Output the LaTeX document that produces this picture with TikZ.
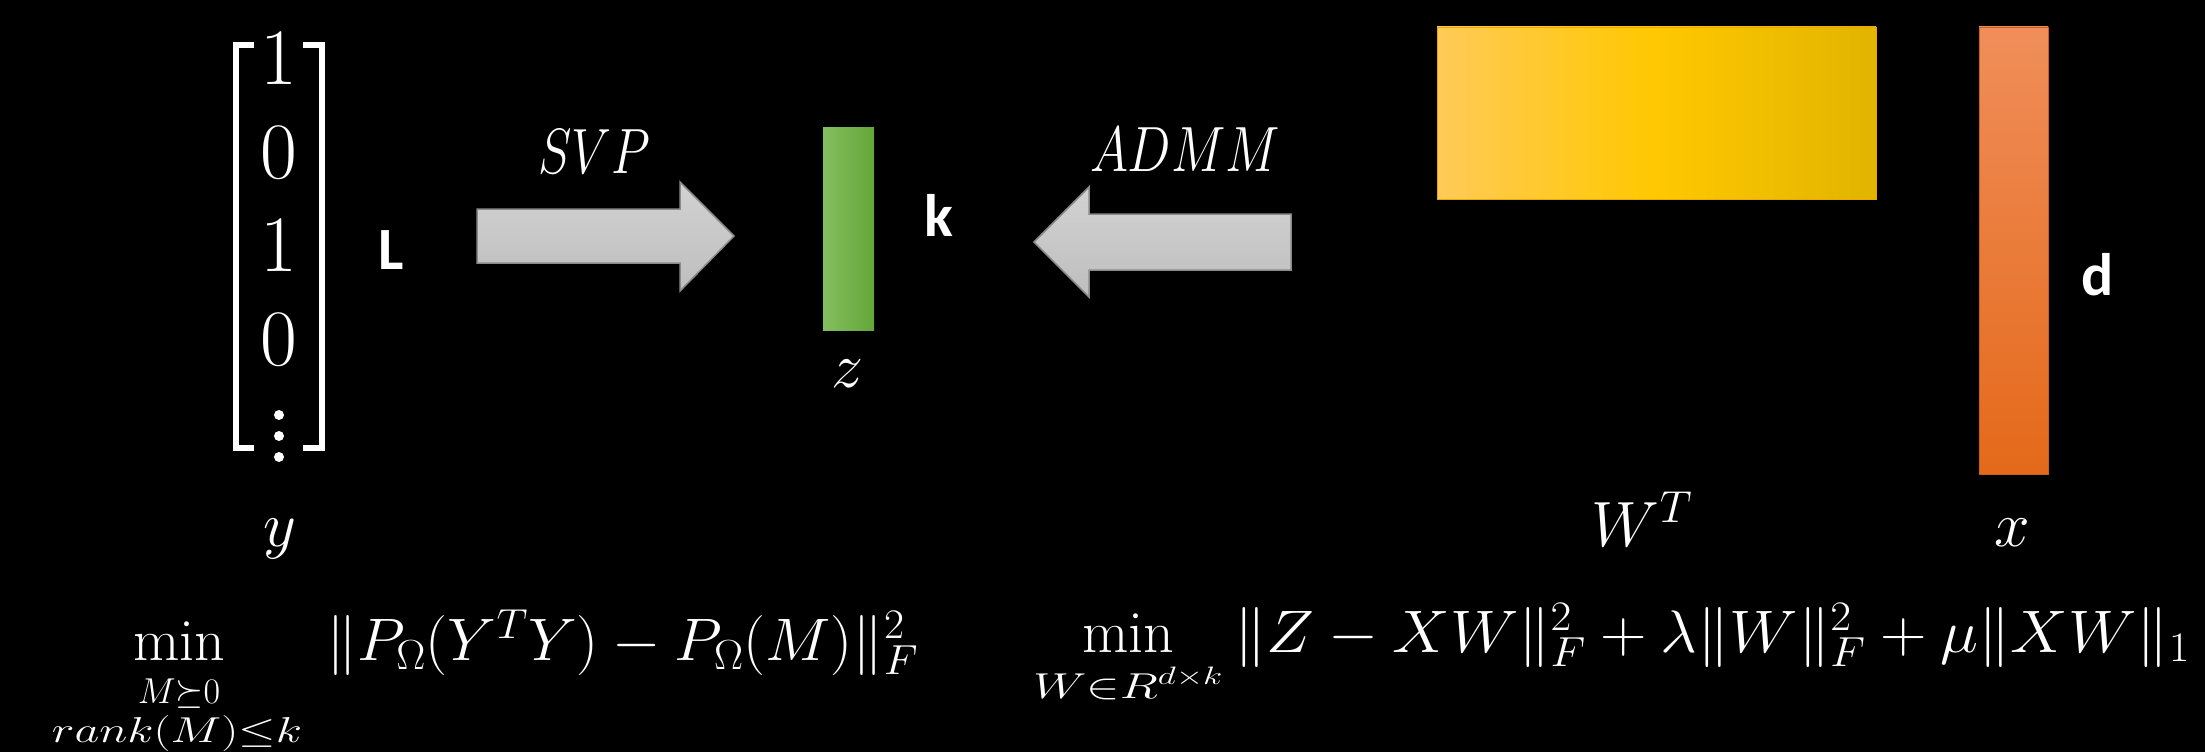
\documentclass[tikz,border=0pt]{standalone}
\usepackage{fix-cm}
\usepackage{amsmath}
\usepackage{graphicx}
\usepackage{fontspec}
\newfontfamily\calib{Carlito}
\newcommand\wfit[2]{\resizebox{#1}{\height}{#2}}
\definecolor{arrtop}{HTML}{D2D2D2}
\definecolor{arrbot}{HTML}{BEBEBE}
\definecolor{arredge}{HTML}{8A8A8A}
\definecolor{grL}{HTML}{84BF60}
\definecolor{grR}{HTML}{64A638}
\definecolor{yeL}{HTML}{FFCA58}
\definecolor{yeM}{HTML}{FFC800}
\definecolor{yeR}{HTML}{E2B400}
\definecolor{orT}{HTML}{F08E5A}
\definecolor{orB}{HTML}{E4691A}
\tikzset{
  lab/.style={text=white, inner sep=0pt, outer sep=0pt},
  dimlab/.style={lab, font=\calib\bfseries\fontsize{60}{72}\selectfont},
  mathlab/.style={lab, font=\fontsize{64}{76}\selectfont},
  digit/.style={lab, font=\fontsize{80}{96}\selectfont},
  fbig/.style={lab, font=\fontsize{60}{72}\selectfont},
  fsub/.style={lab, font=\fontsize{36}{43}\selectfont},
  brack/.style={draw=white, line width=6pt},
  vdot/.style={circle, fill=white, inner sep=0pt, minimum size=10pt},
  blockarrow/.style={top color=arrtop, bottom color=arrbot, draw=arredge, line width=1.5pt},
  barbox/.style={rectangle, inner sep=0pt, outer sep=0pt},
}
\begin{document}
\begin{tikzpicture}[x=1pt,y=-1pt]
\fill[black] (0,0) rectangle (2205,752);
\useasboundingbox (0,0) rectangle (2205,752);

% vector y
\draw[brack] (254,45) -- (236,45) -- (236,448) -- (254,448);
\draw[brack] (303,45) -- (322,45) -- (322,448) -- (303,448);
\node[digit] (r1) at (279,59) {$1$};
\node[digit] (r2) at (279,153) {$0$};
\node[digit] (r3) at (279,246) {$1$};
\node[digit] (r4) at (279,340) {$0$};
\node[vdot] (v1) at (279,415) {};
\node[vdot] (v2) at (279,436) {};
\node[vdot] (v3) at (279,457) {};
\node[dimlab] (Llab) at (391,250) {L};
\node[mathlab, anchor=base] (ylab) at (280,546) {$y$};

% SVP arrow
\coordinate (s0) at (477,209);
\path[blockarrow] (s0) -- (680,209) -- (680,182) -- (734,236) -- (680,291) -- (680,263) -- (477,263) -- cycle;
\node[mathlab, anchor=base] (svp) at (594,173) {\wfit{112pt}{$SVP$}};

% z
\node[barbox, left color=grL, right color=grR, minimum width=51pt, minimum height=203pt] (zbar) at (848.5,228.5) {};
\node[dimlab] (klab) at (939,215) {k};
\node[mathlab, anchor=base] (zlab) at (847,387) {$z$};

% ADMM arrow
\coordinate (a0) at (1291,214);
\path[blockarrow] (a0) -- (1089,214) -- (1089,187) -- (1034,242) -- (1089,297) -- (1089,270) -- (1291,270) -- cycle;
\node[mathlab, anchor=base] (admm) at (1185,171) {\wfit{190pt}{$ADMM$}};

% W^T
\node[barbox, left color=yeL, right color=yeR, middle color=yeM, draw=yeR!80!orange, line width=0.8pt, minimum width=439pt, minimum height=172pt] (wbar) at (1656.5,113) {};
\node[mathlab, anchor=base] (wlab) at (1642,546) {$W^T$};

% x
\node[barbox, top color=orT, bottom color=orB, draw=orB!90!black, line width=0.8pt, minimum width=69pt, minimum height=447pt] (xbar) at (2013.5,250.5) {};
\node[dimlab] (dlab) at (2098,275) {d};
\node[mathlab, anchor=base] (xlab) at (2012,546) {$x$};

% left formula
\node[fbig, anchor=base] (min1) at (179,660) {$\min$};
\node[fsub, anchor=base] (s1a) at (179,703) {$M{\succeq}0$};
\node[fsub, anchor=base] (s1b) at (177,742) {\wfit{250pt}{$rank(M){\le}k$}};
\node[fbig, anchor=base west] (e1) at (326,660) {\wfit{592pt}{$\|P_\Omega(Y^TY)-P_\Omega(M)\|_F^2$}};

% right formula
\node[fbig, anchor=base] (min2) at (1128,652) {$\min$};
\node[fsub, anchor=base] (s2) at (1128,698) {\wfit{190pt}{$W{\in}R^{d{\times}k}$}};
\node[fbig, anchor=base west] (e2) at (1234,652) {\wfit{956pt}{$\|Z-XW\|_F^2+\lambda\|W\|_F^2+\mu\|XW\|_1$}};
\end{tikzpicture}
\end{document}
